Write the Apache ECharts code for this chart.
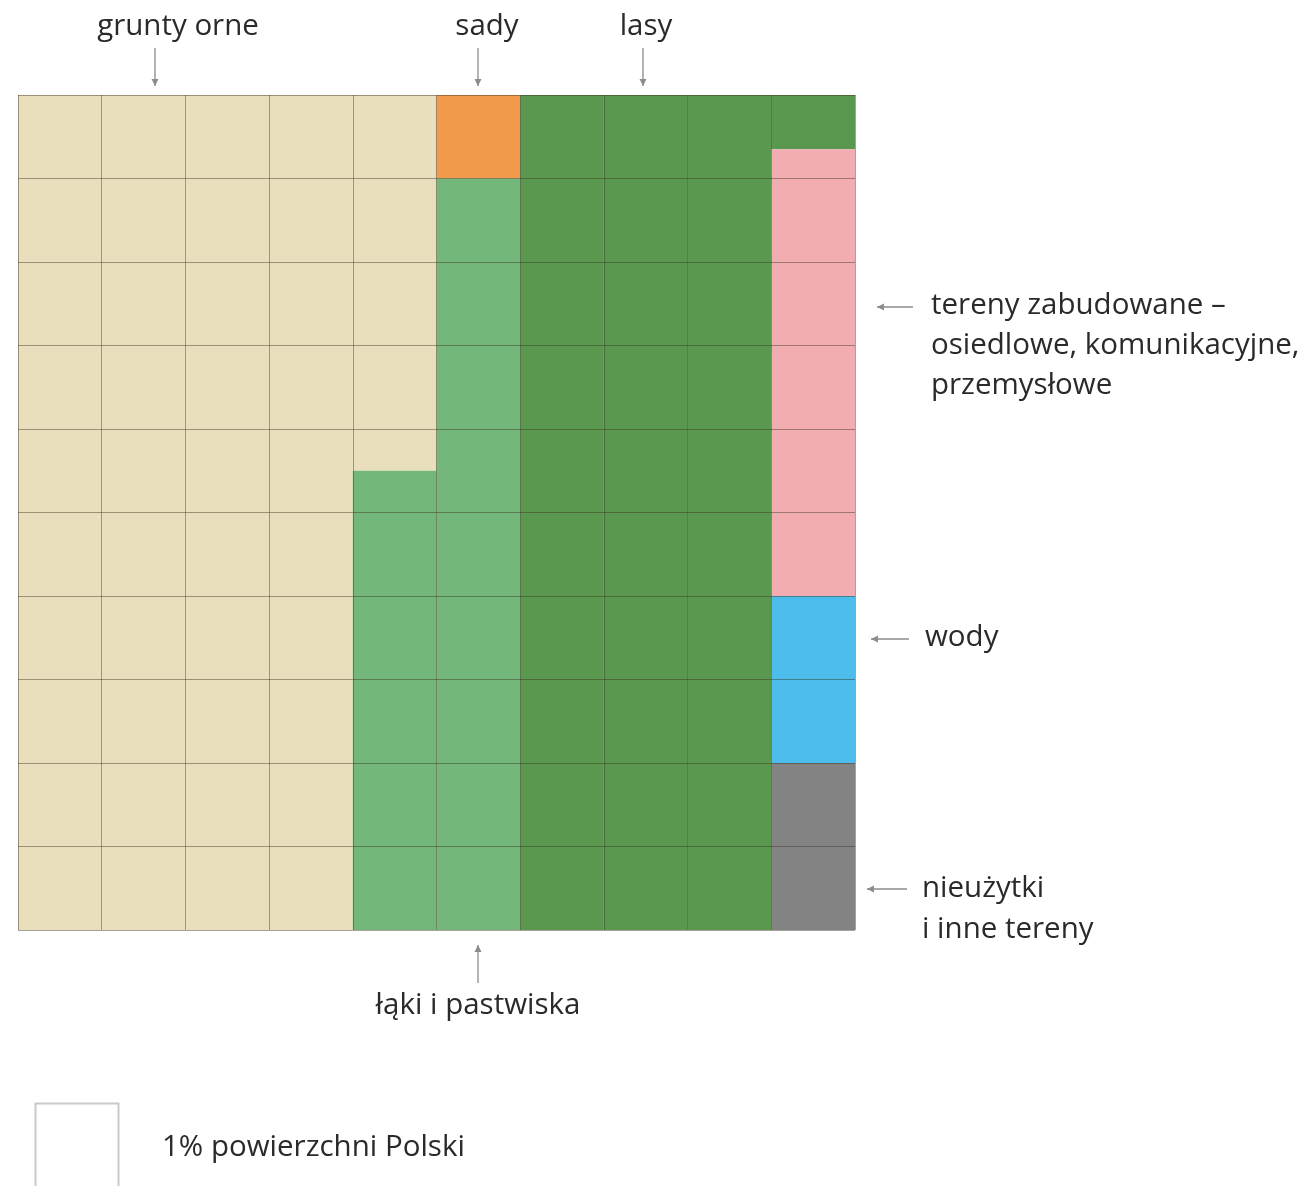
<!DOCTYPE html>
<html>
<head>
<meta charset="utf-8">
<script src="https://cdn.jsdelivr.net/npm/echarts@6/dist/echarts.min.js"></script>
<style>
html,body{margin:0;padding:0;background:#fff;}
#c{width:1304px;height:1186px;}
</style>
</head>
<body>
<div id="c"></div>
<script>
// Waffle: 10 columns x 10 units each (1 unit = 1% of Poland's area)
var columns = ['1','2','3','4','5','6','7','8','9','10'];
var gruntyOrne   = [10, 10, 10, 10, 4.5, 0, 0, 0, 0, 0];
var sady         = [0, 0, 0, 0, 0, 1, 0, 0, 0, 0];
var lakiPastwiska= [0, 0, 0, 0, 5.5, 9, 0, 0, 0, 0];
var lasy         = [0, 0, 0, 0, 0, 0, 10, 10, 10, 0.65];
var zabudowane   = [0, 0, 0, 0, 0, 0, 0, 0, 0, 5.35];
var wody         = [0, 0, 0, 0, 0, 0, 0, 0, 0, 2];
var nieuzytki    = [0, 0, 0, 0, 0, 0, 0, 0, 0, 2];

var seriesDefs = [
  {name:'grunty orne', data:gruntyOrne, color:'#e9dfbd'},
  {name:'sady', data:sady, color:'#f29a4b'},
  {name:'łąki i pastwiska', data:lakiPastwiska, color:'#74b77a'},
  {name:'lasy', data:lasy, color:'#5b984f'},
  {name:'tereny zabudowane', data:zabudowane, color:'#f2adb2'},
  {name:'wody', data:wody, color:'#4dbdeb'},
  {name:'nieużytki i inne tereny', data:nieuzytki, color:'#838383'}
];

var G = {left:18, top:95, width:837, height:835};
var FONT = '"Open Sans", "Noto Sans", sans-serif';
var TXT = '#2a2a2a';
var FS = 29.5;
var ARROW = '#8c8c8c';

function arrowV(x, y1, y2){ // arrow head at y2
  var d = y2 > y1 ? 1 : -1;
  return [
    {type:'line', shape:{x1:x, y1:y1, x2:x, y2:y2}, style:{stroke:ARROW, lineWidth:1.3}},
    {type:'polygon', shape:{points:[[x-3.5, y2-7*d],[x+3.5, y2-7*d],[x, y2]]}, style:{fill:ARROW}}
  ];
}
function arrowH(x1, x2, y){ // head at x2
  var d = x2 > x1 ? 1 : -1;
  return [
    {type:'line', shape:{x1:x1, y1:y, x2:x2, y2:y}, style:{stroke:ARROW, lineWidth:1.3}},
    {type:'polygon', shape:{points:[[x2-7*d, y-3.5],[x2-7*d, y+3.5],[x2, y]]}, style:{fill:ARROW}}
  ];
}
function txt(x, y, s, align){
  return {type:'text', x:x, y:y, style:{text:s, font:FS+'px '+FONT, fill:TXT, textAlign:align||'left', textVerticalAlign:'middle', lineHeight:40}};
}

var graphics = [].concat(
  [txt(178, 27, 'grunty orne', 'center')], arrowV(155, 48, 86),
  [txt(487, 27, 'sady', 'center')], arrowV(478, 48, 86),
  [txt(646, 27, 'lasy', 'center')], arrowV(643, 48, 86),
  arrowH(913, 877, 307),
  [{type:'text', x:931, y:346, style:{text:'tereny zabudowane –\nosiedlowe, komunikacyjne,\nprzemysłowe', font:FS+'px '+FONT, fill:TXT, textAlign:'left', textVerticalAlign:'middle', lineHeight:40}}],
  arrowH(909, 871, 639), [txt(925, 638, 'wody')],
  arrowH(907, 867, 889),
  [{type:'text', x:922, y:909, style:{text:'nieużytki\ni inne tereny', font:FS+'px '+FONT, fill:TXT, textAlign:'left', textVerticalAlign:'middle', lineHeight:41}}],
  arrowV(478, 983, 945), [txt(478, 1006, 'łąki i pastwiska', 'center')],
  [{type:'rect', shape:{x:35.5, y:1103.5, width:83, height:100}, style:{fill:'#fff', stroke:'#c9c9c9', lineWidth:2}}],
  [txt(162, 1148, '1% powierzchni Polski')]
);

var chart = echarts.init(document.getElementById('c'), null, {renderer:'canvas'});
chart.setOption({
  backgroundColor:'#ffffff',
  animation:false,
  grid:{left:G.left, top:G.top, width:G.width, height:G.height, containLabel:false},
  xAxis:{
    type:'category', data:columns, boundaryGap:true, z:10,
    axisLine:{show:false}, axisTick:{show:false}, axisLabel:{show:false},
    splitLine:{show:true, interval:0, lineStyle:{color:'rgba(60,50,30,0.45)', width:1}}
  },
  yAxis:{
    type:'value', min:0, max:10, interval:1, inverse:true, z:10,
    axisLine:{show:false}, axisTick:{show:false}, axisLabel:{show:false},
    splitLine:{show:true, lineStyle:{color:'rgba(60,50,30,0.45)', width:1}}
  },
  series: seriesDefs.map(function(s){
    return {name:s.name, type:'bar', stack:'all', data:s.data, barCategoryGap:'0%', barGap:'0%',
      itemStyle:{color:s.color}, silent:true};
  }),
  graphic: graphics
});
</script>
</body>
</html>
